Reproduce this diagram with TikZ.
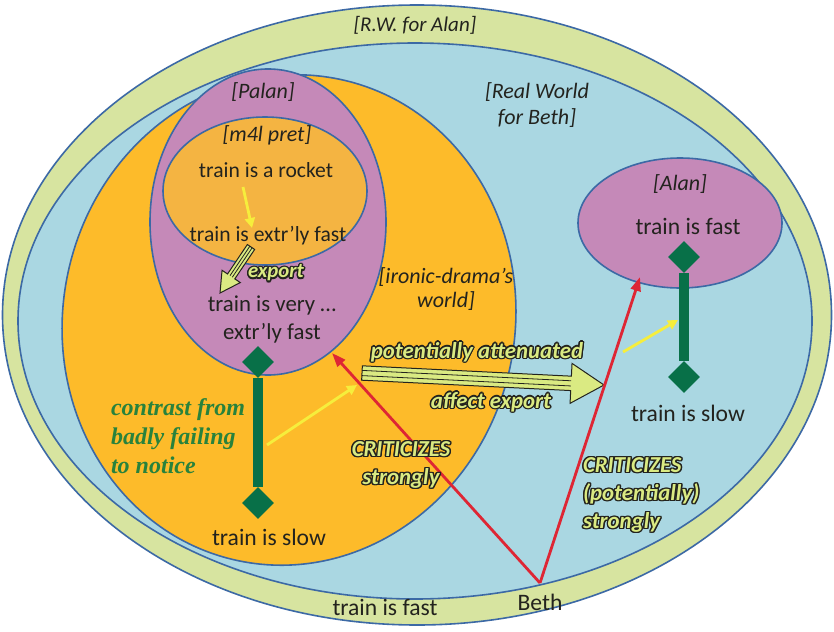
\documentclass[tikz,border=0pt]{standalone}
\usepackage{fontspec}
\setmainfont{Carlito}
\newfontfamily\timesfont{Liberation Serif}
\usetikzlibrary{shapes.geometric,positioning,calc,arrows.meta}

\definecolor{rwgreen}{RGB}{215,228,160}
\definecolor{bethblue}{RGB}{170,215,226}
\definecolor{dramaorange}{RGB}{253,187,42}
\definecolor{palanpink}{RGB}{197,137,184}
\definecolor{pretorange}{RGB}{244,180,66}
\definecolor{rimblue}{RGB}{60,105,165}
\definecolor{critred}{RGB}{222,38,52}
\definecolor{bargreen}{RGB}{8,112,72}
\definecolor{hintyellow}{RGB}{246,238,60}
\definecolor{glowgreen}{RGB}{218,234,130}
\definecolor{inkdark}{RGB}{35,35,30}
\definecolor{notegreen}{RGB}{40,130,60}

\tikzset{
  world/.style={ellipse, draw=rimblue, line width=0.8pt, inner sep=0pt},
  txt/.style={font=\fontsize{11.8}{14}\selectfont, text=inkdark, align=center},
  small txt/.style={txt, font=\fontsize{10.8}{14}\selectfont},
  tag/.style={font=\fontsize{11}{12}\selectfont\itshape, text=inkdark, align=center},
  note/.style={font=\timesfont\fontsize{12}{14.5}\selectfont\bfseries\itshape, text=notegreen, align=left},
  glowback/.style={font=\fontsize{11.4}{14}\selectfont\bfseries\itshape, text=inkdark, align=center},
  glowfront/.style={glowback, text=glowgreen},
  hint/.style={-{Triangle[length=5pt,width=5pt]}, hintyellow, line width=1.4pt},
  crit/.style={-{Triangle[length=7pt,width=5pt]}, critred, line width=1.4pt},
  scalebar/.style={bargreen, line width=5pt},
  knob/.style={diamond, fill=bargreen, minimum size=16pt, inner sep=0pt},
  fatbody/.style={draw=inkdark, fill=glowgreen, line width=0.5pt, line join=miter},
  fatstripe/.style={inkdark, line width=0.4pt}
}

% outlined label: dark copies round a light copy
\newcommand{\glowlabel}[4][]{%
  \foreach \ang in {0,30,...,330}
    \node[glowback,#1] at ($(#3)+(\ang:1.4)$) {#4};
  \node[glowfront,#1] (#2) at (#3) {#4};
}

% hollow block arrow: tail, tip, half shaft, half head, head length, stripe offset
\newcommand{\fatarrow}[6]{%
  \coordinate (#1-base) at ($(#2)!#5!(#1)$);
  \filldraw[fatbody] ($(#1)!#3!90:(#2)$) -- ($(#1-base)!#3!-90:(#1)$)
    -- ($(#1-base)!#4!-90:(#1)$) -- (#2) -- ($(#1-base)!#4!90:(#1)$)
    -- ($(#1-base)!#3!90:(#1)$) -- ($(#1)!#3!-90:(#2)$) -- cycle;
  \draw[fatstripe] ($(#1)!#6!90:(#2)$) -- ($(#1-base)!#6!-90:(#1)$);
  \draw[fatstripe] ($(#1)!#6!-90:(#2)$) -- ($(#1-base)!#6!90:(#1)$);
}

\begin{document}
\begin{tikzpicture}[x=0.5pt,y=-0.5pt]
  \fill[white] (0,0) rectangle (834,631);
  \useasboundingbox (0,0) rectangle (834,631);

  % nested worlds
  \node[world, fill=rwgreen, minimum width=414.5pt, minimum height=310pt] (rwalan) at (417,315) {};
  \node[world, fill=bethblue, minimum width=397pt, minimum height=278pt] (rwbeth) at (415,321) {};
  \node[world, fill=dramaorange, minimum width=226pt, minimum height=246pt, rotate=-12] (drama) at (289,320) {};
  \node[world, fill=palanpink, minimum width=118pt, minimum height=153pt] (palan) at (268,222) {};
  \node[world, fill=pretorange, minimum width=102pt, minimum height=74pt] (pret) at (265,191) {};
  \node[world, fill=palanpink, minimum width=102pt, minimum height=65pt] (alan) at (680,223) {};

  % labels of the worlds
  \node[tag, font=\fontsize{10.5}{12}\selectfont\itshape] (rwalantag) at (415,25) {[R.W. for Alan]};
  \node[tag, font=\fontsize{11}{13}\selectfont\itshape] (bethtag) at (537,105) {[Real World\\for Beth]};
  \node[tag] (palantag) at (263,92) {[Palan]};
  \node[tag] (prettag) at (267,135) {[m4l pret]};
  \node[tag] (dramatag) at (446,289) {[ironic-drama’s\\world]};
  \node[tag] (alantag) at (680,184) {[Alan]};

  % statements
  \node[small txt] (rocket) at (266,170) {train is a rocket};
  \node[small txt] (extr) at (268,236) {train is extr’ly fast};
  \node[txt, font=\fontsize{11.4}{14}\selectfont] (very) at (272,319) {train is very …\\extr’ly fast};
  \node[txt] (leftslow) at (269,537) {train is slow};
  \node[txt] (bottomfast) at (385,607) {train is fast};
  \node[txt] (beth) at (540,602) {Beth};
  \node[txt] (alanfast) at (688,226) {train is fast};
  \node[txt] (alanslow) at (688,413) {train is slow};
  \node[note, anchor=west] (contrast) at (104,436) {contrast from\\badly failing\\to notice};

  % fast--slow scales
  \node[knob] (lefttop) at (258,362) {};
  \node[knob] (leftbot) at (258,503) {};
  \draw[scalebar] (lefttop) -- (leftbot);
  \node[knob] (righttop) at (684,257) {};
  \node[knob] (rightbot) at (684,377) {};
  \draw[scalebar] (righttop) -- (rightbot);

  % yellow hints
  \coordinate (rockettail) at (243,187);
  \coordinate (rockethead) at (252,228);
  \draw[hint] (rockettail) -- (rockethead);
  \coordinate (leftscale) at (267,445);
  \coordinate (fatstart) at (357,385);
  \draw[hint] (leftscale) -- (fatstart);
  \coordinate (fatend) at (623,352);
  \coordinate (rightscale) at (678,320);
  \draw[hint] (fatend) -- (rightscale);

  % export arrows
  \coordinate (smalltail) at (251,247);
  \coordinate (smalltip) at (220,293);
  \fatarrow{smalltail}{smalltip}{2.2pt}{5.5pt}{10pt}{0.7pt}
  \coordinate (bigtail) at (362,373);
  \coordinate (bigtip) at (604,385);
  \fatarrow{bigtail}{bigtip}{3.6pt}{10pt}{16.5pt}{1.3pt}

  % criticism
  \coordinate (bethpt) at (540,583);
  \coordinate (palanhit) at (332,353);
  \coordinate (alanhit) at (640,277);
  \draw[crit] (bethpt) -- (palanhit);
  \draw[crit] (bethpt) -- (alanhit);

  % outlined labels
  \glowlabel[font=\fontsize{10.4}{12}\selectfont\bfseries\itshape]{exportlbl}{276,273}{export}
  \glowlabel{potlbl}{477,352}{potentially attenuated}
  \glowlabel{afflbl}{491,402}{affect export}
  \glowlabel{critlbl}{401,465}{CRITICIZES\\strongly}
  \glowlabel[anchor=west, align=left]{critlbl2}{576,495}{CRITICIZES\\(potentially)\\strongly}
\end{tikzpicture}
\end{document}
